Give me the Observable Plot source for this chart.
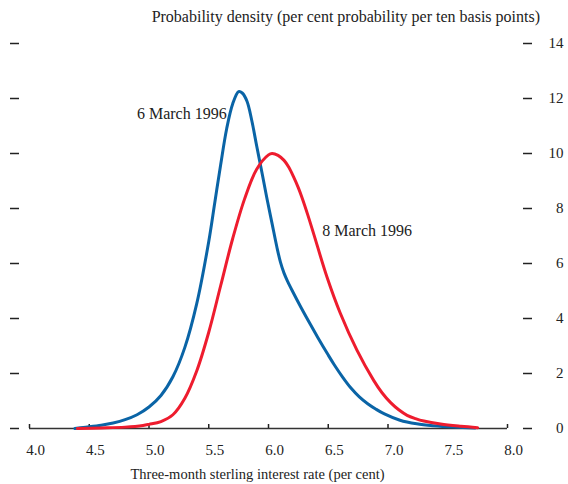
<!DOCTYPE html>
<html><head><meta charset="utf-8">
<script src="https://cdn.jsdelivr.net/npm/d3@7"></script>
<script src="https://cdn.jsdelivr.net/npm/@observablehq/plot@0.6"></script>
<style>
body{margin:0;background:#fff;font-family:"Liberation Serif","Times New Roman",serif;color:#222}
#title{box-sizing:border-box;height:30px;width:568px;padding-top:7px;padding-right:28px;text-align:right;font-size:16px;line-height:20px;white-space:nowrap}
#chart svg{display:block}
</style></head><body>
<div id="title"></div>
<div id="chart"></div>
<script>
const titleText = "Probability density (per cent probability per ten basis points)";
const xTitle = "Three-month sterling interest rate (per cent)";
const xTicks = [4.0, 4.5, 5.0, 5.5, 6.0, 6.5, 7.0, 7.5, 8.0];
const yTicks = [0, 2, 4, 6, 8, 10, 12, 14];
const seriesNames = ["6 March 1996", "8 March 1996"];
const seriesColors = ["#0a64a6", "#ee1c2e"];

const march6X = [4.38, 4.45, 4.6, 4.7, 4.8, 4.9, 5.0, 5.1, 5.2, 5.3, 5.4, 5.5, 5.55, 5.6, 5.65, 5.7, 5.75, 5.78, 5.82, 5.86, 5.9, 5.95, 5.99, 6.03, 6.07, 6.1, 6.13, 6.16, 6.2, 6.27, 6.35, 6.41, 6.5, 6.55, 6.62, 6.69, 6.76, 6.83, 6.9, 6.97, 7.1, 7.24, 7.38, 7.55, 7.73];
const march6Y = [0.0, 0.04, 0.12, 0.2, 0.32, 0.5, 0.78, 1.2, 1.88, 2.95, 4.55, 6.8, 8.2, 9.6, 10.9, 11.8, 12.25, 12.2, 11.9, 11.2, 10.3, 9.2, 8.3, 7.45, 6.6, 6.05, 5.65, 5.35, 5.0, 4.42, 3.79, 3.33, 2.67, 2.32, 1.87, 1.47, 1.15, 0.9, 0.7, 0.53, 0.3, 0.17, 0.1, 0.05, 0.02];

const march8X = [4.4, 4.6, 4.8, 4.95, 5.0, 5.1, 5.2, 5.3, 5.4, 5.5, 5.6, 5.7, 5.8, 5.9, 6.0, 6.03, 6.08, 6.13, 6.17, 6.21, 6.25, 6.28, 6.33, 6.38, 6.49, 6.6, 6.74, 6.88, 6.95, 7.02, 7.09, 7.16, 7.23, 7.3, 7.44, 7.61, 7.75];
const march8Y = [0.0, 0.02, 0.05, 0.11, 0.15, 0.25, 0.5, 1.1, 2.1, 3.5, 5.2, 6.9, 8.35, 9.42, 9.95, 10.0, 9.93, 9.75, 9.5, 9.15, 8.75, 8.4, 7.75, 7.05, 5.5, 4.2, 2.85, 1.75, 1.3, 0.95, 0.68, 0.48, 0.36, 0.27, 0.16, 0.08, 0.03];

const labelX = [5.65, 6.45];
const labelY = [11.45, 7.2];
const labelAnchor = ["end", "start"];

const rows = [
  ...march6X.map((x, i) => ({series: seriesNames[0], x, y: march6Y[i]})),
  ...march8X.map((x, i) => ({series: seriesNames[1], x, y: march8Y[i]}))
];
const labels = seriesNames.map((s, i) => ({text: s, x: labelX[i], y: labelY[i], anchor: labelAnchor[i]}));

document.getElementById("title").textContent = titleText;

const font = '"Liberation Serif","Times New Roman",serif';
const chart = Plot.plot({
  width: 568,
  height: 454,
  marginTop: 13,
  marginBottom: 56,
  marginLeft: 29,
  marginRight: 61,
  style: {fontFamily: font, fontSize: "15px", color: "#222", background: "#fff"},
  x: {domain: [4, 8]},
  y: {domain: [0, 14]},
  color: {domain: seriesNames, range: seriesColors},
  marks: [
    Plot.axisY(yTicks, {anchor: "right", tickSize: 9, dx: 15, tickPadding: 32, textAnchor: "end", tickFormat: d => String(d), label: null, strokeWidth: 1.5, fontSize: 15}),
    Plot.axisY(yTicks, {anchor: "left", tickSize: 9, dx: -10, tickFormat: () => "", label: null, strokeWidth: 1.5}),
    Plot.ruleY([0], {stroke: "#333", strokeWidth: 1.5}),
    Plot.axisX(xTicks, {anchor: "bottom", tickSize: 4, dy: -4, tickFormat: () => "", label: null, strokeWidth: 1.5}),
    Plot.axisX(xTicks, {anchor: "bottom", tickSize: 0, tickPadding: 16, dx: 6, tickFormat: d3.format(".1f"), label: null, fontSize: 15}),
    Plot.line(rows, {x: "x", y: "y", z: "series", stroke: "series", strokeWidth: 3, curve: "catmull-rom"}),
    Plot.text(labels.filter(d => d.anchor === "end"), {x: "x", y: "y", text: "text", textAnchor: "end", fontSize: 16}),
    Plot.text(labels.filter(d => d.anchor === "start"), {x: "x", y: "y", text: "text", textAnchor: "start", fontSize: 16}),
    Plot.text([xTitle], {frameAnchor: "bottom", dy: 50, dx: -11, fontSize: 14.5})
  ]
});
document.getElementById("chart").appendChild(chart);
</script>
</body></html>
